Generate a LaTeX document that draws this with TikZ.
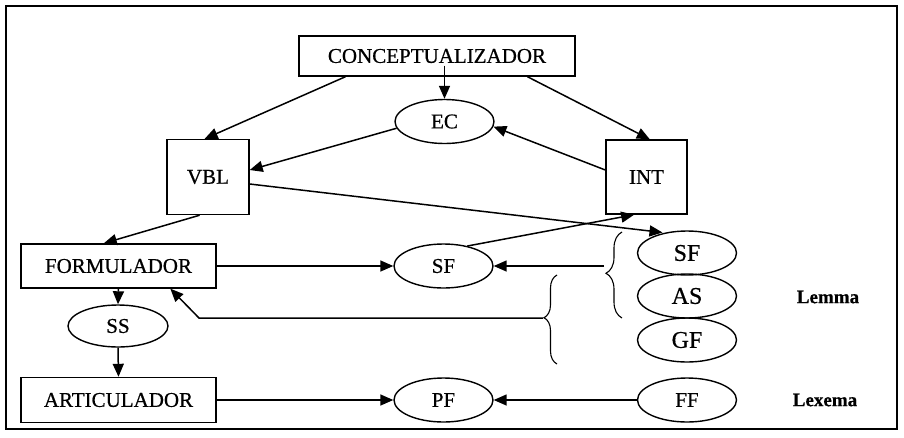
\documentclass[tikz,border=0pt]{standalone}
\usepackage{fontspec}
\setmainfont{Liberation Serif}[FakeBold=0.6]
\usetikzlibrary{arrows.meta,shapes.geometric,calc,decorations.pathreplacing}

\begin{document}
\begin{tikzpicture}[x=1pt,y=-1pt,
  lbl/.style={font=\fontsize{21}{21}\selectfont},
  box/.style={draw, line width=1.4pt, inner sep=0pt, lbl},
  oval/.style={draw, ellipse, line width=1.4pt, inner sep=0pt,
               minimum width=99pt, minimum height=44pt, lbl},
  lex/.style={oval, font=\fontsize{24}{24}\selectfont},
  tag/.style={font=\bfseries\fontsize{19}{19}\selectfont},
  arr/.style={-{Triangle[length=13pt,width=11pt]}, line width=1.5pt},
  bracket/.style={decorate, decoration={brace, amplitude=#1, aspect=0.52},
                  line width=1.1pt},
]
\useasboundingbox (0,0) rectangle (904,437);
\draw[line width=1.4pt] (6,6) rectangle (897,429);

% processing components
\node[box, minimum width=276pt, minimum height=40pt] (concept) at (437,56) {CONCEPTUALIZADOR};
\node[oval] (ec) at (444.5,121.5) {EC};
\node[box, minimum width=82pt, minimum height=75pt] (vbl) at (208,177) {VBL};
\node[box, minimum width=81pt, minimum height=74pt] (int) at (646.5,177) {INT};
\node[box, minimum width=195pt, minimum height=44pt] (form) at (118.5,266) {FORMULADOR};
\node[oval] (sfm) at (443.5,266) {SF};
\node[oval, minimum width=100pt, minimum height=42pt] (ss) at (118,326) {SS};
\node[box, minimum width=195pt, minimum height=45pt] (art) at (118.5,400) {ARTICULADOR};
\node[oval] (pf) at (443.5,400) {PF};

% lexical entry
\node[lex] (sfr) at (687,253) {SF};
\node[lex] (as) at (687,296) {AS};
\node[lex] (gf) at (687,340) {GF};
\node[oval] (ff) at (687,400) {FF};
\node[tag] (lemma) at (828,297) {Lemma};
\node[tag] (lexema) at (825,400) {Lexema};

% braces grouping the lemma entries
\draw[bracket=16pt] (622,318) -- (622,232);
\draw[bracket=13pt] (557,364) -- (557,275);
\coordinate (rbtip) at (604,266);
\coordinate (lbtip) at (543,318);
\coordinate (lbbend) at (199,318);

% connectors
\draw[arr] ([yshift=11pt]ec.north |- concept.south) -- (ec.north);
\draw[arr] ($(concept.south west)!0.17!(concept.south east)$) -- ($(vbl.north west)!0.46!(vbl.north east)$);
\draw[arr] ($(concept.south west)!0.826!(concept.south east)$) -- ($(int.north west)!0.54!(int.north east)$);
\draw[arr] (ec.188) -- ([yshift=7pt]vbl.east);
\draw[arr] ([yshift=7pt]int.west) -- (ec.-6);
\draw[arr, shorten >=2pt] ([yshift=-7pt]vbl.east) -- (sfr.138);
\draw[arr] (sfm.40) -- ($(int.south west)!0.35!(int.south east)$);
\draw[arr] ($(vbl.south west)!0.4!(vbl.south east)$) -- ($(form.north west)!0.425!(form.north east)$);
\draw[arr] (form.east) -- (sfm.west);
\draw[arr] (rbtip) -- (sfm.east);
\draw[arr] (lbtip) -- (lbbend) -- ($(form.south east)!0.236!(form.south west)$);
\draw[arr] (form.south) -- (ss.north);
\draw[arr] (ss.south) -- (art.north);
\draw[arr] (art.east) -- (pf.west);
\draw[arr] (ff.west) -- (pf.east);
\end{tikzpicture}
\end{document}
